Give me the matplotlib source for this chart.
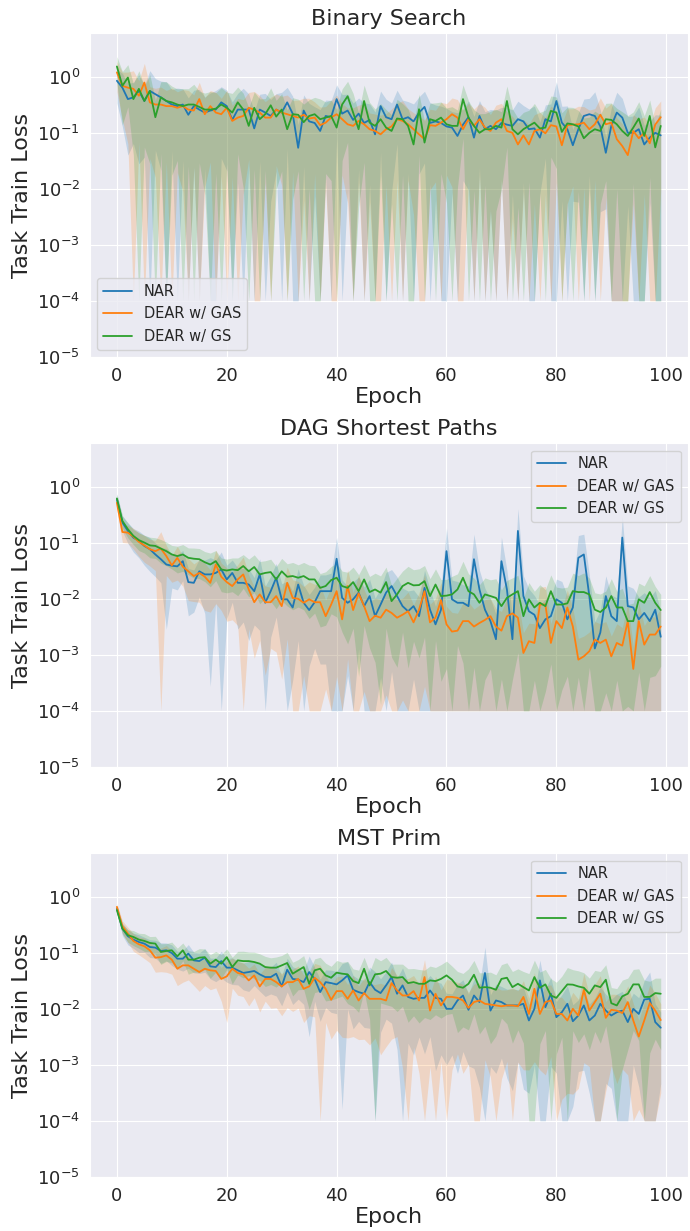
import numpy as np
import matplotlib
matplotlib.use("Agg")
import matplotlib.pyplot as plt
import seaborn as sns

# data (mean loss per epoch, and band half-width as a fraction of the mean)
epochs = np.arange(100)
labels = ["NAR", "DEAR w/ GAS", "DEAR w/ GS"]
titles = ["Binary Search", "DAG Shortest Paths", "MST Prim"]

bs_nar = [0.85, 0.64, 0.40, 0.43, 0.56, 0.37, 0.56, 0.49, 0.43, 0.37,
          0.32, 0.30, 0.32, 0.21, 0.30, 0.26, 0.23, 0.25, 0.26, 0.35,
          0.30, 0.17, 0.26, 0.26, 0.26, 0.12, 0.26, 0.23, 0.20, 0.26,
          0.23, 0.35, 0.22, 0.054, 0.25, 0.16, 0.15, 0.108, 0.20, 0.19,
          0.40, 0.22, 0.25, 0.17, 0.22, 0.15, 0.17, 0.094, 0.30, 0.19,
          0.175, 0.32, 0.175, 0.19, 0.16, 0.23, 0.29, 0.15, 0.16, 0.15,
          0.13, 0.124, 0.088, 0.14, 0.19, 0.082, 0.20, 0.116, 0.133, 0.116,
          0.15, 0.14, 0.133, 0.175, 0.16, 0.116, 0.12, 0.082, 0.175, 0.16,
          0.37, 0.152, 0.116, 0.06, 0.116, 0.20, 0.215, 0.20, 0.13, 0.044,
          0.133, 0.23, 0.187, 0.10, 0.10, 0.116, 0.062, 0.082, 0.10, 0.09]
bs_gas = [1.2, 0.69, 0.64, 0.61, 0.46, 0.79, 0.35, 0.32, 0.32, 0.30,
          0.30, 0.28, 0.30, 0.26, 0.25, 0.40, 0.215, 0.30, 0.23, 0.215,
          0.28, 0.163, 0.187, 0.20, 0.28, 0.26, 0.23, 0.187, 0.187, 0.26,
          0.23, 0.215, 0.20, 0.187, 0.21, 0.18, 0.187, 0.137, 0.152, 0.187,
          0.215, 0.175, 0.142, 0.133, 0.163, 0.142, 0.116, 0.108, 0.094, 0.116,
          0.13, 0.175, 0.163, 0.142, 0.116, 0.094, 0.077, 0.137, 0.133, 0.152,
          0.175, 0.215, 0.187, 0.116, 0.175, 0.133, 0.175, 0.124, 0.108, 0.152,
          0.175, 0.108, 0.10, 0.062, 0.09, 0.062, 0.108, 0.116, 0.098, 0.137,
          0.13, 0.06, 0.137, 0.14, 0.142, 0.152, 0.116, 0.142, 0.21, 0.142,
          0.152, 0.077, 0.058, 0.04, 0.108, 0.08, 0.10, 0.065, 0.14, 0.19]
bs_gs = [1.53, 0.69, 0.97, 0.40, 0.61, 0.37, 0.56, 0.19, 0.43, 0.37,
         0.35, 0.32, 0.30, 0.32, 0.32, 0.29, 0.26, 0.26, 0.27, 0.32,
         0.28, 0.23, 0.35, 0.26, 0.133, 0.28, 0.175, 0.215, 0.31, 0.195,
         0.26, 0.116, 0.215, 0.21, 0.155, 0.20, 0.215, 0.175, 0.187, 0.20,
         0.124, 0.32, 0.45, 0.23, 0.116, 0.37, 0.152, 0.133, 0.175, 0.124,
         0.108, 0.18, 0.175, 0.133, 0.062, 0.264, 0.067, 0.175, 0.163, 0.187,
         0.142, 0.133, 0.133, 0.40, 0.187, 0.133, 0.10, 0.116, 0.116, 0.133,
         0.124, 0.37, 0.116, 0.094, 0.116, 0.133, 0.152, 0.12, 0.124, 0.246,
         0.23, 0.104, 0.147, 0.142, 0.13, 0.08, 0.10, 0.116, 0.108, 0.175,
         0.17, 0.142, 0.108, 0.088, 0.124, 0.18, 0.088, 0.20, 0.055, 0.133]

dag_nar = [0.60, 0.23, 0.163, 0.124, 0.108, 0.088, 0.077, 0.062, 0.051, 0.041,
           0.039, 0.038, 0.047, 0.0199, 0.0193, 0.031, 0.0273, 0.0273, 0.029, 0.0335,
           0.0222, 0.029, 0.0193, 0.0193, 0.018, 0.0137, 0.0273, 0.0085, 0.0137, 0.0238,
           0.0098, 0.0098, 0.0070, 0.018, 0.0085, 0.0063, 0.0087, 0.0137, 0.0137, 0.0137,
           0.052, 0.0104, 0.0085, 0.0098, 0.0129, 0.0074, 0.0112, 0.0049, 0.0079, 0.0129,
           0.0169, 0.0112, 0.0074, 0.0060, 0.0074, 0.0049, 0.0157, 0.0064, 0.0035, 0.0064,
           0.071, 0.0098, 0.0085, 0.0085, 0.0074, 0.051, 0.0147, 0.0064, 0.0040, 0.0019,
           0.047, 0.0147, 0.0019, 0.163, 0.0112, 0.0060, 0.0052, 0.0030, 0.0043, 0.0049,
           0.0098, 0.0085, 0.0043, 0.0070, 0.054, 0.062, 0.0112, 0.0013, 0.0025, 0.0112,
           0.0049, 0.0040, 0.124, 0.0074, 0.0070, 0.0043, 0.0056, 0.0040, 0.0064, 0.0021]
dag_gas = [0.52, 0.156, 0.152, 0.129, 0.104, 0.090, 0.077, 0.071, 0.079, 0.058,
           0.0395, 0.054, 0.0375, 0.031, 0.0255, 0.029, 0.0248, 0.0193, 0.041, 0.0248,
           0.0199, 0.0169, 0.0222, 0.0273, 0.0147, 0.0087, 0.0120, 0.0087, 0.0087, 0.0112,
           0.0074, 0.0193, 0.0104, 0.0100, 0.0085, 0.0098, 0.0087, 0.0087, 0.0049, 0.0079,
           0.0137, 0.0043, 0.0169, 0.0063, 0.0125, 0.0074, 0.0040, 0.0050, 0.0046, 0.0064,
           0.0056, 0.0046, 0.0052, 0.0060, 0.0038, 0.0064, 0.0137, 0.0038, 0.0046, 0.0095,
           0.0035, 0.0026, 0.0027, 0.0040, 0.0040, 0.0032, 0.0037, 0.0042, 0.0049, 0.0032,
           0.0027, 0.0049, 0.0055, 0.0046, 0.00108, 0.00175, 0.00163, 0.0079, 0.0079, 0.00163,
           0.0040, 0.0030, 0.0070, 0.0032, 0.00082, 0.00094, 0.00116, 0.00187, 0.00163, 0.00187,
           0.00094, 0.00163, 0.00146, 0.0040, 0.00056, 0.0040, 0.00152, 0.0023, 0.0023, 0.0032]
dag_gs = [0.62, 0.246, 0.175, 0.133, 0.112, 0.101, 0.090, 0.088, 0.079, 0.071,
          0.062, 0.058, 0.062, 0.054, 0.052, 0.051, 0.045, 0.041, 0.047, 0.0335,
          0.032, 0.0335, 0.0325, 0.0385, 0.031, 0.037, 0.0273, 0.029, 0.030, 0.0222,
          0.031, 0.0248, 0.0255, 0.0238, 0.0255, 0.0222, 0.0222, 0.0157, 0.0169, 0.0216,
          0.0238, 0.0169, 0.0157, 0.0199, 0.0137, 0.0222, 0.0132, 0.0147, 0.0129, 0.0199,
          0.0091, 0.0120, 0.0169, 0.0193, 0.0174, 0.0176, 0.0207, 0.0112, 0.018, 0.0112,
          0.0114, 0.0120, 0.0147, 0.0238, 0.0137, 0.0120, 0.0085, 0.0120, 0.0112, 0.0104,
          0.0074, 0.0104, 0.0120, 0.0137, 0.0049, 0.0098, 0.0070, 0.0085, 0.0074, 0.0137,
          0.0079, 0.0079, 0.0083, 0.0137, 0.0132, 0.0132, 0.0120, 0.0064, 0.0058, 0.0070,
          0.0112, 0.0070, 0.0070, 0.0040, 0.0040, 0.0098, 0.0085, 0.0132, 0.0085, 0.0063]

mst_nar = [0.618, 0.271, 0.198, 0.172, 0.156, 0.146, 0.127, 0.124, 0.108, 0.111,
           0.099, 0.0786, 0.0786, 0.0967, 0.0733, 0.0712, 0.0819, 0.0573, 0.0557, 0.0712,
           0.0543, 0.0543, 0.0487, 0.0437, 0.0454, 0.0474, 0.0413, 0.0369, 0.0369, 0.0424,
           0.0251, 0.050, 0.0342, 0.0331, 0.030, 0.0454, 0.0342, 0.0199, 0.030, 0.0288,
           0.0273, 0.0322, 0.0395, 0.0219, 0.0199, 0.0186, 0.030, 0.0219, 0.0191, 0.0262,
           0.0369, 0.0186, 0.0262, 0.0163, 0.0151, 0.0157, 0.0157, 0.0213, 0.0157, 0.0151,
           0.0100, 0.0100, 0.0141, 0.0173, 0.0096, 0.0173, 0.0132, 0.0437, 0.0093, 0.0141,
           0.0132, 0.0115, 0.0115, 0.0115, 0.0123, 0.0062, 0.0100, 0.0322, 0.0107, 0.0186,
           0.0071, 0.0087, 0.0123, 0.0060, 0.0076, 0.0115, 0.0062, 0.0076, 0.0123, 0.0093,
           0.0076, 0.0087, 0.0093, 0.0058, 0.0100, 0.0081, 0.0147, 0.0151, 0.0058, 0.0046]
mst_gas = [0.662, 0.298, 0.22, 0.163, 0.142, 0.131, 0.111, 0.0819, 0.0837, 0.090,
           0.0755, 0.052, 0.0597, 0.0597, 0.052, 0.0454, 0.052, 0.0487, 0.0474, 0.0342,
           0.038, 0.052, 0.0437, 0.0413, 0.0322, 0.0395, 0.0251, 0.0342, 0.0342, 0.030,
           0.0251, 0.030, 0.030, 0.0342, 0.0228, 0.0251, 0.0359, 0.030, 0.0228, 0.0145,
           0.0207, 0.0207, 0.0151, 0.0213, 0.0141, 0.0191, 0.0151, 0.0151, 0.0151, 0.0141,
           0.0288, 0.0213, 0.0173, 0.0173, 0.0207, 0.0141, 0.0369, 0.0093, 0.0186, 0.0115,
           0.0163, 0.0163, 0.0157, 0.0141, 0.0104, 0.0132, 0.0141, 0.0123, 0.0119, 0.0115,
           0.0111, 0.0115, 0.0115, 0.0111, 0.0163, 0.0081, 0.0228, 0.0081, 0.0132, 0.0141,
           0.0081, 0.0081, 0.0062, 0.0100, 0.0076, 0.0219, 0.0093, 0.0132, 0.0186, 0.0069,
           0.0096, 0.0093, 0.0084, 0.0132, 0.0062, 0.0032, 0.0062, 0.0127, 0.0093, 0.0063]
mst_gs = [0.58, 0.271, 0.206, 0.192, 0.172, 0.163, 0.150, 0.146, 0.1035, 0.108,
          0.111, 0.0865, 0.111, 0.0755, 0.0755, 0.0819, 0.0837, 0.064, 0.0755, 0.064,
          0.0837, 0.0557, 0.0733, 0.0712, 0.0712, 0.0685, 0.064, 0.0557, 0.0543, 0.0543,
          0.0597, 0.0658, 0.0424, 0.0487, 0.0557, 0.028, 0.0487, 0.052, 0.0395, 0.0359,
          0.0443, 0.0424, 0.0413, 0.0313, 0.0288, 0.052, 0.0262, 0.0413, 0.0424, 0.0474,
          0.0369, 0.0359, 0.0369, 0.0288, 0.0300, 0.028, 0.028, 0.0322, 0.0313, 0.0342,
          0.0395, 0.0331, 0.0251, 0.0238, 0.028, 0.0406, 0.0238, 0.0244, 0.0238, 0.0219,
          0.0342, 0.0359, 0.0244, 0.028, 0.0244, 0.0213, 0.0369, 0.0238, 0.0273, 0.0173,
          0.0157, 0.0207, 0.0273, 0.027, 0.0251, 0.0238, 0.0186, 0.0262, 0.0244, 0.0331,
          0.0126, 0.0115, 0.0167, 0.0186, 0.0273, 0.0273, 0.0163, 0.0163, 0.0191, 0.0186]

# relative spread (std / mean) per epoch
bs_nar_cv = [0.6, 0.8, 0.9, 0.85, 0.95, 0.9, 1.3, 0.9, 0.95, 1.2,
             0.85, 1.1, 0.9, 1.0, 0.92, 1.3, 0.9, 1.05, 1.2, 0.9,
             0.93, 1.1, 0.95, 1.4, 0.9, 1.0, 0.88, 1.2, 0.97, 0.92,
             1.3, 0.85, 1.05, 1.6, 0.9, 1.1, 0.95, 1.4, 0.92, 1.0,
             0.8, 1.2, 0.96, 1.0, 0.9, 1.3, 0.93, 1.5, 0.85, 1.1,
             0.95, 0.8, 1.2, 0.9, 1.05, 0.92, 0.9, 1.3, 0.96, 1.0,
             1.1, 0.93, 1.6, 0.9, 0.95, 1.4, 0.88, 1.05, 0.97, 1.2,
             0.9, 1.0, 0.94, 1.1, 0.92, 1.3, 1.5, 0.9, 0.8, 1.05,
             1.2, 0.96, 1.6, 0.9, 0.95, 1.0, 0.92, 1.7, 0.97, 0.9,
             1.1, 1.3, 1.2, 0.95, 1.0, 1.5, 1.2, 0.93, 1.1, 1.3]
bs_gas_cv = [0.55, 0.75, 0.9, 1.1, 0.85, 1.2, 0.9, 0.95, 1.05, 0.9,
             1.1, 0.93, 0.97, 1.2, 0.9, 1.0, 0.95, 0.9, 1.3, 0.92,
             1.05, 0.9, 1.2, 0.96, 0.88, 1.1, 1.0, 0.93, 1.3, 0.9,
             0.95, 1.2, 0.9, 1.05, 0.97, 1.3, 0.9, 1.1, 0.93, 1.0,
             1.2, 0.9, 0.96, 1.1, 0.92, 1.3, 0.95, 1.0, 1.2, 0.9,
             1.05, 0.92, 1.3, 0.9, 0.97, 1.1, 1.2, 0.93, 0.9, 1.3,
             0.9, 0.95, 1.1, 1.2, 0.92, 1.0, 0.9, 1.3, 0.96, 1.05,
             0.92, 1.2, 0.97, 1.4, 0.9, 1.3, 0.95, 1.0, 0.92, 1.2,
             0.9, 1.4, 0.96, 0.92, 1.1, 0.93, 1.2, 0.9, 1.0, 0.95,
             1.2, 1.4, 1.5, 1.3, 0.95, 1.2, 0.92, 1.1, 1.0, 0.95]
bs_gs_cv = [0.5, 0.8, 0.7, 0.9, 1.1, 0.85, 0.95, 1.0, 0.9, 1.2,
            0.95, 0.9, 1.05, 0.92, 1.3, 0.9, 0.97, 1.1, 0.93, 1.0,
            0.9, 1.2, 0.88, 0.96, 1.1, 0.92, 1.3, 0.9, 1.05, 0.95,
            0.92, 1.2, 0.97, 0.9, 1.1, 0.95, 1.0, 1.3, 0.9, 0.93,
            1.1, 0.9, 0.85, 1.2, 0.96, 0.92, 1.3, 1.0, 0.9, 1.1,
            0.95, 1.2, 0.9, 1.0, 1.3, 0.85, 1.4, 0.93, 1.1, 0.9,
            0.96, 1.2, 0.92, 0.8, 1.0, 0.93, 1.2, 0.9, 1.1, 0.97,
            0.92, 0.85, 1.3, 0.95, 1.0, 0.9, 1.2, 0.93, 1.05, 0.85,
            0.9, 1.2, 0.96, 1.0, 0.93, 1.3, 0.9, 1.1, 0.95, 0.92,
            1.0, 0.93, 1.2, 1.3, 0.9, 1.0, 1.3, 0.92, 1.4, 1.0]

dag_nar_cv = [0.25, 0.3, 0.4, 0.45, 0.5, 0.55, 0.6, 0.6, 0.62, 0.93,
              0.6, 0.62, 0.55, 0.75, 0.7, 0.65, 0.8, 0.99, 0.7, 1.05,
              0.8, 0.7, 0.85, 0.8, 0.9, 0.75, 0.9, 0.99, 0.85, 0.8,
              0.9, 1.1, 0.95, 0.9, 1.05, 0.9, 0.85, 0.95, 0.95, 1.1,
              1.4, 1.1, 0.95, 1.05, 0.9, 1.2, 1.0, 1.1, 0.95, 1.3,
              0.97, 1.2, 1.1, 1.3, 0.95, 1.2, 1.05, 1.3, 1.1, 1.5,
              1.6, 1.2, 1.4, 1.1, 1.3, 1.8, 1.2, 1.4, 1.5, 1.8,
              1.7, 1.2, 1.6, 1.5, 1.3, 1.5, 1.2, 1.6, 1.3, 1.2,
              1.3, 1.4, 1.6, 1.2, 1.5, 1.3, 1.4, 2.0, 1.5, 1.3,
              1.4, 1.6, 1.4, 1.3, 1.2, 1.5, 1.3, 1.6, 1.2, 1.8]
dag_gas_cv = [0.25, 0.35, 0.35, 0.4, 0.45, 0.5, 0.5, 0.55, 1.0, 0.55,
              0.5, 0.6, 0.55, 0.7, 0.65, 0.7, 0.75, 0.7, 0.8, 0.75,
              0.8, 0.75, 0.85, 1.05, 0.8, 0.9, 0.85, 0.95, 0.85, 0.9,
              0.95, 0.9, 1.1, 1.05, 0.95, 1.05, 1.1, 1.0, 0.95, 1.05,
              0.97, 1.1, 0.95, 1.05, 1.1, 0.97, 1.2, 1.05, 1.1, 0.97,
              1.05, 1.1, 0.97, 1.2, 1.05, 1.0, 0.98, 1.1, 1.2, 1.05,
              1.1, 1.2, 1.05, 1.1, 1.2, 1.05, 1.1, 1.3, 1.05, 1.1,
              1.2, 1.05, 1.1, 1.2, 1.3, 1.1, 1.2, 1.05, 1.1, 1.2,
              1.1, 1.2, 1.05, 1.1, 1.4, 1.3, 1.2, 1.1, 1.2, 1.1,
              1.3, 1.2, 1.1, 1.05, 1.5, 1.1, 1.2, 1.1, 1.05, 1.1]
dag_gs_cv = [0.2, 0.25, 0.3, 0.3, 0.35, 0.35, 0.4, 0.4, 0.45, 0.45,
             0.45, 0.5, 0.5, 0.5, 0.55, 0.55, 0.55, 0.6, 0.55, 0.6,
             0.6, 0.6, 0.65, 0.6, 0.65, 0.65, 0.7, 0.65, 0.7, 0.7,
             0.7, 0.7, 0.75, 0.7, 0.75, 0.8, 0.75, 0.8, 0.8, 0.75,
             0.8, 0.85, 0.9, 0.85, 0.97, 0.85, 0.9, 0.95, 0.99, 0.85,
             0.9, 0.95, 0.85, 0.97, 0.9, 0.95, 0.9, 1.05, 0.9, 0.97,
             0.95, 1.1, 0.9, 0.97, 1.05, 0.95, 1.1, 0.97, 0.95, 1.2,
             0.95, 1.05, 0.97, 0.92, 1.1, 0.99, 0.95, 1.1, 0.97, 0.95,
             1.05, 0.97, 0.95, 1.1, 0.97, 1.2, 0.95, 1.0, 1.1, 0.97,
             1.05, 0.95, 1.2, 0.97, 1.1, 0.95, 1.0, 0.97, 0.95, 0.9]

mst_nar_cv = [0.15, 0.25, 0.3, 0.3, 0.35, 0.3, 0.35, 0.35, 0.4, 0.35,
              0.4, 0.35, 0.4, 0.45, 0.4, 0.4, 0.45, 0.4, 0.45, 0.5,
              0.45, 0.5, 0.45, 0.5, 0.55, 0.45, 0.5, 0.55, 0.5, 0.6,
              0.55, 0.6, 0.65, 0.55, 0.6, 0.93, 0.6, 0.7, 0.65, 0.7,
              0.7, 0.995, 0.75, 0.8, 0.7, 0.75, 0.85, 1.1, 0.8, 0.75,
              0.85, 0.9, 1.05, 0.85, 0.9, 0.8, 0.9, 0.85, 0.95, 0.9,
              0.9, 0.85, 0.95, 0.9, 0.9, 0.95, 0.97, 1.9, 0.9, 0.95,
              0.9, 0.95, 0.97, 0.9, 0.97, 0.95, 0.9, 1.3, 1.1, 0.95,
              0.9, 1.05, 1.1, 0.97, 0.9, 0.93, 0.95, 1.05, 1.0, 0.95,
              0.95, 1.1, 1.2, 1.1, 0.9, 0.95, 1.2, 2.0, 1.1, 0.9]
mst_gas_cv = [0.15, 0.25, 0.3, 0.35, 0.35, 0.4, 0.4, 0.45, 0.45, 0.5,
              0.45, 0.5, 0.5, 0.45, 0.5, 0.55, 0.5, 0.55, 0.5, 0.6,
              0.85, 0.55, 0.6, 0.6, 0.65, 0.6, 0.65, 0.6, 0.7, 0.65,
              0.7, 0.65, 0.7, 0.7, 0.75, 0.7, 0.8, 1.0, 0.75, 0.8,
              0.8, 0.85, 0.8, 0.85, 0.8, 0.85, 0.85, 0.8, 0.9, 0.85,
              0.9, 0.85, 0.95, 1.0, 0.9, 0.95, 1.05, 0.9, 1.05, 0.9,
              1.05, 0.95, 0.9, 0.95, 0.9, 1.1, 1.05, 0.9, 0.95, 1.1,
              0.95, 0.9, 1.05, 0.9, 0.95, 0.9, 0.95, 0.9, 0.95, 0.9,
              1.05, 0.97, 0.95, 0.97, 0.95, 0.95, 0.9, 1.05, 1.1, 0.95,
              0.9, 0.95, 0.9, 0.95, 1.0, 0.95, 1.05, 1.1, 1.05, 0.95]
mst_gs_cv = [0.15, 0.2, 0.25, 0.3, 0.3, 0.35, 0.3, 0.35, 0.4, 0.35,
             0.4, 0.4, 0.35, 0.45, 0.4, 0.45, 0.4, 0.45, 0.4, 0.45,
             0.4, 0.5, 0.45, 0.5, 0.45, 0.5, 0.5, 0.55, 0.5, 0.55,
             0.5, 0.55, 0.6, 0.55, 0.6, 0.65, 0.6, 0.6, 0.65, 0.6,
             0.65, 0.6, 0.7, 0.65, 0.7, 0.6, 0.75, 1.0, 0.7, 0.75,
             0.7, 0.75, 0.7, 0.8, 0.75, 0.8, 0.75, 0.8, 0.75, 0.8,
             0.8, 0.75, 0.85, 0.8, 0.85, 0.8, 0.85, 0.8, 0.9, 0.85,
             0.8, 0.85, 0.9, 0.85, 0.9, 1.0, 1.0, 0.9, 0.85, 1.0,
             0.9, 0.85, 1.0, 0.85, 0.9, 0.85, 0.9, 0.85, 0.9, 0.85,
             0.9, 1.0, 0.95, 0.9, 0.85, 0.9, 1.0, 0.9, 0.85, 0.9]

panels = [
    ([bs_nar, bs_gas, bs_gs], [bs_nar_cv, bs_gas_cv, bs_gs_cv], "lower left"),
    ([dag_nar, dag_gas, dag_gs], [dag_nar_cv, dag_gas_cv, dag_gs_cv], "upper right"),
    ([mst_nar, mst_gas, mst_gs], [mst_nar_cv, mst_gas_cv, mst_gs_cv], "upper right"),
]

sns.set_style("darkgrid")
fig, axes = plt.subplots(3, 1, figsize=(6.9, 12.31), dpi=100)
fig.subplots_adjust(left=0.13, right=0.997, top=0.973, bottom=0.044, hspace=0.267)

for ax, title, (means, cvs, loc) in zip(axes, titles, panels):
    for mean, cv, lab in zip(means, cvs, labels):
        mean = np.array(mean)
        std = mean * np.array(cv)
        lower = np.maximum(mean - std, 1e-4)
        upper = mean + std
        line, = ax.plot(epochs, mean, label=lab, lw=1.3)
        ax.fill_between(epochs, lower, upper, color=line.get_color(), alpha=0.2, lw=0)
    ax.set_yscale("log")
    ax.set_ylim(1e-5, 6)
    ax.set_xticks([0, 20, 40, 60, 80, 100])
    ax.tick_params(labelsize=13)
    ax.set_title(title, fontsize=16)
    ax.set_xlabel("Epoch", fontsize=16, labelpad=2)
    ax.set_ylabel("Task Train Loss", fontsize=16)
    ax.legend(loc=loc, fontsize=10.5)

fig.savefig("out.png", dpi=100)
